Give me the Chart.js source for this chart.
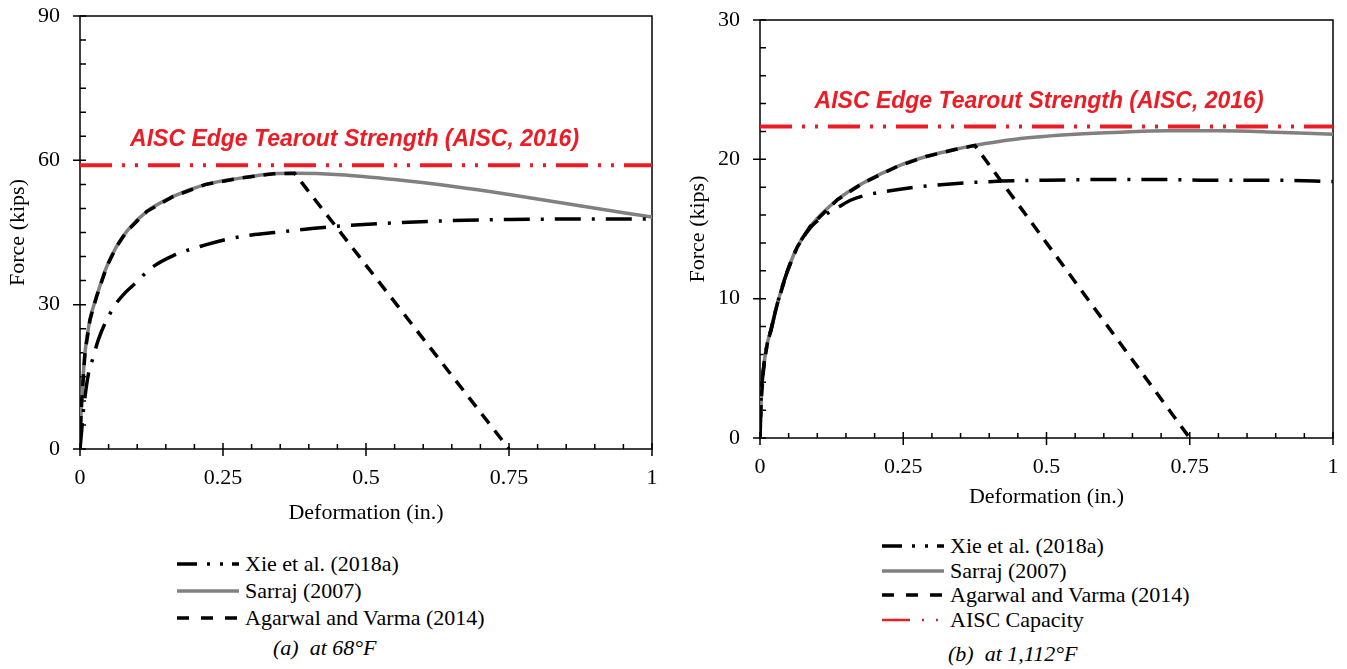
<!DOCTYPE html>
<html>
<head>
<meta charset="utf-8">
<script src="https://cdn.jsdelivr.net/npm/chart.js@4.4.0/dist/chart.umd.min.js"></script>
<style>
  body { margin: 0; background: #fff; width: 1347px; height: 669px; position: relative; overflow: hidden;
         font-family: "Liberation Serif", "Times New Roman", serif; color: #000; }
  .panel { position: absolute; top: 0; }
  canvas { display: block; }
  .legend { position: absolute; font-size: 22px; }
  .legend .row { display: flex; align-items: center; white-space: nowrap; }
  .legend svg { flex: none; }
  .caption { position: absolute; font-style: italic; font-size: 22px; white-space: pre; line-height: 26px; }
</style>
</head>
<body>
<div class="panel" style="left:0"><canvas id="chart68" width="673" height="530"></canvas></div>
<div class="panel" style="left:680px"><canvas id="chart1112" width="667" height="515"></canvas></div>
<div class="legend" id="legend68" style="left:177px; top:550px"></div>
<div class="legend" id="legend1112" style="left:882px; top:534px"></div>
<div class="caption" style="left:273px; top:635px">(a)  at 68°F</div>
<div class="caption" style="left:948px; top:641px">(b)  at 1,112°F</div>

<script>
// tick labels
const xTicks = [0, 0.25, 0.5, 0.75, 1];
const yTicks68 = [0, 30, 60, 90];
const yTicks1112 = [0, 10, 20, 30];

// (a) 68°F
const sarraj68Def   = [0, 0.001, 0.003, 0.0087, 0.0175, 0.029, 0.047, 0.064, 0.082, 0.117, 0.163, 0.22, 0.28, 0.338, 0.375, 0.455, 0.55, 0.65, 0.75, 0.86, 1.0];
const sarraj68Force = [0, 5, 10, 20, 26.9, 31.7, 38, 42.1, 45.3, 49.4, 52.5, 55, 56.3, 57.2, 57.3, 57.0, 56.0, 54.6, 52.9, 50.8, 48.2];
const xie68Def   = [0, 0.003, 0.006, 0.015, 0.023, 0.032, 0.058, 0.076, 0.1, 0.122, 0.163, 0.21, 0.25, 0.3, 0.34, 0.44, 0.55, 0.63, 0.75, 0.88, 1.0];
const xie68Force = [0, 4, 8, 15.8, 19, 22.7, 29.3, 32.1, 34.8, 37.4, 40.2, 42.1, 43.4, 44.5, 45.0, 46.2, 47.0, 47.4, 47.7, 47.8, 47.8];
const agarwal68Def   = [0, 0.001, 0.003, 0.0087, 0.0175, 0.029, 0.047, 0.064, 0.082, 0.117, 0.163, 0.22, 0.28, 0.338, 0.375, 0.75];
const agarwal68Force = [0, 5, 10, 20, 26.9, 31.7, 38, 42.1, 45.3, 49.4, 52.5, 55, 56.3, 57.2, 57.3, 0];
const aisc68 = 59.0;

// (b) 1,112°F
const sarraj1112Def   = [0, 0.0023, 0.007, 0.0128, 0.0186, 0.03, 0.048, 0.065, 0.088, 0.135, 0.18, 0.24, 0.29, 0.34, 0.375, 0.42, 0.455, 0.55, 0.63, 0.71, 0.8, 0.9, 1.0];
const sarraj1112Force = [0, 2.9, 5.3, 6.8, 7.7, 9.6, 12.0, 13.7, 15.2, 17.1, 18.3, 19.5, 20.2, 20.7, 21.0, 21.3, 21.5, 21.8, 21.95, 22.05, 22.05, 21.95, 21.8];
const xie1112Def   = [0, 0.002, 0.007, 0.013, 0.019, 0.03, 0.048, 0.065, 0.088, 0.11, 0.138, 0.16, 0.193, 0.227, 0.27, 0.321, 0.4, 0.5, 0.6, 0.7, 0.8, 0.9, 1.0];
const xie1112Force = [0, 2.9, 5.3, 6.8, 7.7, 9.6, 12.0, 13.7, 15.1, 15.9, 16.6, 17.1, 17.5, 17.75, 18.0, 18.2, 18.4, 18.5, 18.55, 18.55, 18.5, 18.5, 18.4];
const agarwal1112Def   = [0, 0.0023, 0.007, 0.0128, 0.0186, 0.03, 0.048, 0.065, 0.088, 0.135, 0.18, 0.24, 0.29, 0.34, 0.375, 0.75];
const agarwal1112Force = [0, 2.9, 5.3, 6.8, 7.7, 9.6, 12.0, 13.7, 15.2, 17.1, 18.3, 19.5, 20.2, 20.7, 21.0, 0];
const aisc1112 = 22.35;

const labelText = 'AISC Edge Tearout Strength (AISC, 2016)';
const RED = '#ED1C24';

const styles = {
  xie:     { label: 'Xie et al. (2018a)',       color: '#000',    width: 3.5, dash: [26, 11, 3, 11], legendDash: '20 10 3 10 3 9', legendWidth: 3.5 },
  sarraj:  { label: 'Sarraj (2007)',            color: '#808080', width: 3.5, dash: [],              legendDash: '',               legendWidth: 3.5 },
  agarwal: { label: 'Agarwal and Varma (2014)', color: '#000',    width: 3.5, dash: [12, 9],         legendDash: '12 12',          legendWidth: 3.5 },
  aisc:    { label: 'AISC Capacity',            color: RED,       width: 4,   dash: [32, 10, 3, 10, 3, 10], legendDash: '28 12 2 12 2 10', legendWidth: 2.5 }
};

function series(def, force, st, extra) {
  return Object.assign({
    label: st.label,
    data: def.map((d, i) => ({ x: d, y: force[i] })),
    borderColor: st.color,
    borderWidth: st.width,
    borderDash: st.dash,
    pointRadius: 0,
    fill: false,
    cubicInterpolationMode: 'monotone'
  }, extra || {});
}

function flat(value, st) {
  return series([xTicks[0], xTicks[xTicks.length - 1]], [value, value], st);
}

// axis frame + inward minor / crossing major ticks
const framePlugin = {
  id: 'frame',
  beforeDatasetsDraw(chart, args, opts) {
    const { ctx, chartArea: a, scales: { x, y } } = chart;
    ctx.save();
    ctx.strokeStyle = '#000';
    ctx.lineWidth = 1.5;
    ctx.strokeRect(a.left, a.top, a.right - a.left, a.bottom - a.top);
    ctx.beginPath();
    const nx = Math.round((x.max - x.min) / opts.xMinor);
    for (let i = 0; i <= nx; i++) {
      const v = x.min + i * opts.xMinor;
      const px = x.getPixelForValue(v);
      const major = i % opts.xEvery === 0;
      ctx.moveTo(px, a.bottom + (major ? 7 : 0));
      ctx.lineTo(px, a.bottom - (major ? 6 : 5));
    }
    const ny = Math.round((y.max - y.min) / opts.yMinor);
    for (let i = 0; i <= ny; i++) {
      const v = y.min + i * opts.yMinor;
      const py = y.getPixelForValue(v);
      const major = i % opts.yEvery === 0;
      ctx.moveTo(a.left - (major ? 7 : 0), py);
      ctx.lineTo(a.left + 6, py);
    }
    ctx.stroke();
    ctx.restore();
  }
};

// red capacity label above the line
const capLabel = {
  id: 'capLabel',
  afterDatasetsDraw(chart, args, opts) {
    const { ctx, scales: { x, y } } = chart;
    ctx.save();
    ctx.font = 'italic bold 23px "Liberation Sans", Arial, sans-serif';
    ctx.fillStyle = RED;
    ctx.textAlign = 'center';
    ctx.textBaseline = 'middle';
    ctx.fillText(opts.text, x.getPixelForValue(opts.x), y.getPixelForValue(opts.value) - 25);
    ctx.restore();
  }
};

const serif = { family: '"Liberation Serif", "Times New Roman", serif', size: 22 };

function buildChart(id, o) {
  return new Chart(document.getElementById(id), {
    type: 'line',
    data: { datasets: o.datasets },
    options: {
      responsive: false,
      animation: false,
      layout: { padding: { left: 0, right: o.padRight, top: o.padTop, bottom: 0 } },
      plugins: {
        legend: { display: false },
        tooltip: { enabled: false },
        frame: { xMinor: 0.05, xEvery: 5, yMinor: o.yMinor, yEvery: o.yEvery },
        capLabel: { text: labelText, value: o.aisc, x: o.labelX }
      },
      scales: {
        x: {
          type: 'linear', min: 0, max: 1,
          afterFit: s => { s.height = o.xAxisH; s.paddingLeft = 0; s.paddingRight = 0; },
          afterBuildTicks: s => { s.ticks = xTicks.map(v => ({ value: v })); },
          grid: { display: false, drawTicks: false },
          border: { display: false },
          ticks: { color: '#000', font: serif, padding: 16, maxRotation: 0, autoSkip: false, callback: v => String(v) },
          title: { display: true, text: 'Deformation (in.)', color: '#000', font: serif, padding: { top: 0, bottom: o.xTitlePad } }
        },
        y: {
          type: 'linear', min: 0, max: o.yTicks[o.yTicks.length - 1],
          afterFit: s => { s.width = 80; s.paddingTop = 0; s.paddingBottom = 0; },
          afterBuildTicks: s => { s.ticks = o.yTicks.map(v => ({ value: v })); },
          grid: { display: false, drawTicks: false },
          border: { display: false },
          ticks: { color: '#000', font: serif, padding: 20, autoSkip: false, callback: v => String(v) },
          title: { display: true, text: 'Force (kips)', color: '#000', font: serif, padding: { top: 5, bottom: 0 } }
        }
      }
    },
    plugins: [framePlugin, capLabel]
  });
}

buildChart('chart68', {
  datasets: [
    series(agarwal68Def, agarwal68Force, styles.agarwal, { cubicInterpolationMode: 'default', tension: 0 }),
    series(xie68Def, xie68Force, styles.xie),
    flat(aisc68, styles.aisc),
    series(sarraj68Def, sarraj68Force, styles.sarraj)
  ],
  yTicks: yTicks68, yMinor: 5, yEvery: 6,
  aisc: aisc68, labelX: 0.48,
  padRight: 21, padTop: 16, xAxisH: 81, xTitlePad: 4
});

buildChart('chart1112', {
  datasets: [
    series(agarwal1112Def, agarwal1112Force, styles.agarwal, { cubicInterpolationMode: 'default', tension: 0 }),
    series(xie1112Def, xie1112Force, styles.xie),
    flat(aisc1112, styles.aisc),
    series(sarraj1112Def, sarraj1112Force, styles.sarraj)
  ],
  yTicks: yTicks1112, yMinor: 2, yEvery: 5,
  aisc: aisc1112, labelX: 0.487,
  padRight: 14, padTop: 20, xAxisH: 77, xTitlePad: 5
});

function buildLegend(id, keys, rowH) {
  const box = document.getElementById(id);
  keys.forEach(k => {
    const st = styles[k];
    const row = document.createElement('div');
    row.className = 'row';
    row.style.height = rowH + 'px';
    row.innerHTML =
      '<svg width="62" height="10"><line x1="0" y1="5" x2="62" y2="5" stroke="' + st.color +
      '" stroke-width="' + st.legendWidth + '"' + (st.legendDash ? ' stroke-dasharray="' + st.legendDash + '"' : '') +
      '/></svg><span style="margin-left:6px">' + st.label + '</span>';
    box.appendChild(row);
  });
}
buildLegend('legend68', ['xie', 'sarraj', 'agarwal'], 27);
buildLegend('legend1112', ['xie', 'sarraj', 'agarwal', 'aisc'], 24.5);
</script>
</body>
</html>
